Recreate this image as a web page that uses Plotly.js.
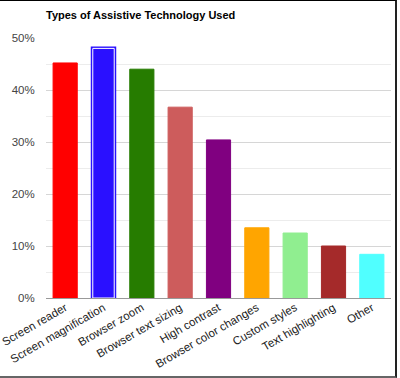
<!DOCTYPE html>
<html>
<head>
<meta charset="utf-8">
<script src="https://cdn.plot.ly/plotly-3.0.1.min.js"></script>
<style>
  html, body { margin: 0; padding: 0; background: #fff; }
  #wrap { position: relative; width: 400px; height: 378px; overflow: hidden; }
  #chart { position: absolute; left: 0; top: 0; width: 400px; height: 378px; }
  #frame { position: absolute; left: -2px; top: 0; width: 397px; height: 375px;
           border-top: 1px solid #000; border-right: 2px solid #222; border-bottom: 2px solid #666;
           pointer-events: none; }
</style>
</head>
<body>
<div id="wrap">
  <div id="chart"></div>
  <div id="frame"></div>
</div>
<script>
const categories = ["Screen reader", "Screen magnification", "Browser zoom", "Browser text sizing",
                    "High contrast", "Browser color changes", "Custom styles", "Text highlighting", "Other"];
const percentUsed = [45.2, 48.0, 44.0, 36.7, 30.4, 13.5, 12.5, 10.0, 8.4];
const barColors = ["#ff0000", "#2a10ff", "#267c00", "#cd5c5c", "#800080",
                   "#ffa500", "#90ee90", "#a52a2a", "#50ffff"];
const highlightedIndex = 1;
const yTickValues = [0, 10, 20, 30, 40, 50];
const yTickLabels = ["0%", "10%", "20%", "30%", "40%", "50%"];

const highlightValues = percentUsed.map((v, i) => i === highlightedIndex ? v : null);
const lineColors = barColors.map((c, i) => i === highlightedIndex ? "#ffffff" : c);

const highlightTrace = {
  type: "bar", x: categories, y: highlightValues, width: 0.56,
  marker: { color: barColors[highlightedIndex], line: { color: barColors[highlightedIndex], width: 4 } },
  hoverinfo: "skip", showlegend: false
};
const mainTrace = {
  type: "bar", x: categories, y: percentUsed,
  width: categories.map((c, i) => i === highlightedIndex ? 0.56 : 0.63),
  marker: { color: barColors, line: { color: lineColors, width: 1 } },
  showlegend: false
};

const layout = {
  width: 400, height: 378,
  margin: { l: 46, r: 9, t: 38, b: 80 },
  paper_bgcolor: "#fff", plot_bgcolor: "#fff",
  barmode: "overlay",
  font: { family: "Arial, 'Liberation Sans', sans-serif", size: 11, color: "#222" },
  title: {
    text: "<b>Types of Assistive Technology Used</b>",
    font: { family: "Arial, 'Liberation Sans', sans-serif", size: 11, color: "#000" },
    xref: "container", x: 46 / 400, xanchor: "left",
    yref: "container", y: 1 - 15 / 378, yanchor: "middle"
  },
  xaxis: {
    type: "category", tickangle: -30, showgrid: false, ticks: "",
    color: "#222",
    tickfont: { family: "Arial, 'Liberation Sans', sans-serif", size: 11.5, color: "#222" },
    showline: false, zeroline: false
  },
  yaxis: {
    range: [0, 50], tickvals: yTickValues, ticktext: yTickLabels,
    color: "#444",
    gridcolor: "#d6d6d6", gridwidth: 1,
    ticks: "outside", ticklen: 8, tickcolor: "rgba(0,0,0,0)",
    tickfont: { family: "Arial, 'Liberation Sans', sans-serif", size: 11.5, color: "#444" },
    minor: { dtick: 5, showgrid: true, gridcolor: "#ececec", gridwidth: 1 },
    zeroline: true, zerolinecolor: "#999", zerolinewidth: 1, showline: false
  }
};

Plotly.newPlot("chart", [highlightTrace, mainTrace], layout, { displayModeBar: false, staticPlot: true });
</script>
</body>
</html>
